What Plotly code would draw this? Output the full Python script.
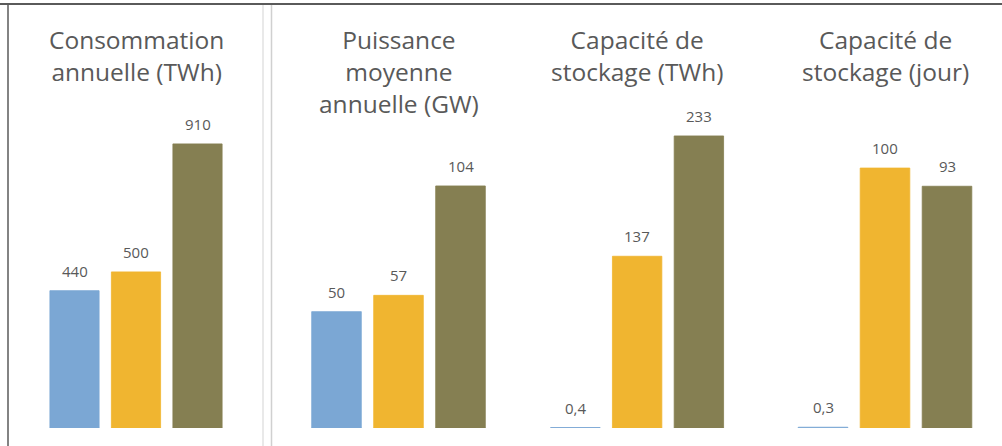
import plotly.graph_objects as go

# Data
titles = ["Consommation<br>annuelle (TWh)", "Puissance<br>moyenne<br>annuelle (GW)",
          "Capacité de<br>stockage (TWh)", "Capacité de<br>stockage (jour)"]
series_values = [
    [440, 500, 910],
    [50, 57, 104],
    [0.4, 137, 233],
    [0.3, 100, 93],
]
value_labels = [
    ["440", "500", "910"],
    ["50", "57", "104"],
    ["0,4", "137", "233"],
    ["0,3", "100", "93"],
]
categories = [0, 1, 2]
colors = ["#7BA7D4", "#F0B530", "#857F52"]

W, H = 1002, 446
# layout (pixels)
x_domains_px = [(43.75, 228.25), (305.5, 491.5), (544.5, 729.75), (792, 978)]
y_bottom_px, y_top_px = 428, 108
y_ranges = [1025, 137.5, 255.3, 123.1]
title_y_px = [55.5, 71.5, 55.5, 55.5]

fig = go.Figure()
text_color = "#595959"
font_family = "Open Sans, sans-serif"

for i in range(4):
    ax = "" if i == 0 else str(i + 1)
    fig.add_trace(go.Bar(
        x=categories, y=series_values[i],
        marker=dict(color=colors, line=dict(color=colors, width=0.8)),
        xaxis="x" + ax, yaxis="y" + ax, showlegend=False, hoverinfo="skip",
    ))
    x0, x1 = x_domains_px[i]
    fig.update_layout(**{
        "xaxis" + ax: dict(domain=[x0 / W, x1 / W], range=[-0.5, 2.5], visible=False,
                           anchor="y" + ax),
        "yaxis" + ax: dict(domain=[1 - y_bottom_px / H, 1 - y_top_px / H],
                           range=[0, y_ranges[i]], visible=False, anchor="x" + ax),
    })
    for c, v, lab in zip(categories, series_values[i], value_labels[i]):
        fig.add_annotation(x=c, y=v, xref="x" + ax, yref="y" + ax, text=lab,
                           showarrow=False, yanchor="middle", yshift=20,
                           font=dict(size=15, color=text_color, family=font_family))
    fig.add_annotation(x=(x0 + x1) / 2 / W, y=1 - title_y_px[i] / H, xref="paper", yref="paper",
                       text=titles[i], showarrow=False, xanchor="center", yanchor="middle",
                       font=dict(size=24.5, color=text_color, family=font_family))

shapes = [
    dict(type="line", xref="paper", yref="paper", x0=0, x1=1, y0=1 - 4 / H, y1=1 - 4 / H,
         line=dict(color="#5a5a5a", width=2)),
    dict(type="line", xref="paper", yref="paper", x0=8 / W, x1=8 / W, y0=0, y1=1 - 4 / H,
         line=dict(color="#5a5a5a", width=1.5)),
    dict(type="line", xref="paper", yref="paper", x0=263 / W, x1=263 / W, y0=0, y1=1 - 5 / H,
         line=dict(color="#e2e2e2", width=1.5)),
    dict(type="line", xref="paper", yref="paper", x0=271.5 / W, x1=271.5 / W, y0=0, y1=1 - 5 / H,
         line=dict(color="#d0d0d0", width=1.5)),
]

fig.update_layout(width=W, height=H, margin=dict(l=0, r=0, t=0, b=0),
                  paper_bgcolor="white", plot_bgcolor="white", bargap=0.2,
                  shapes=shapes)

fig.write_html("out.html", config={"displayModeBar": False},
               post_script="document.body.style.margin='0';document.body.style.overflow='hidden';")
